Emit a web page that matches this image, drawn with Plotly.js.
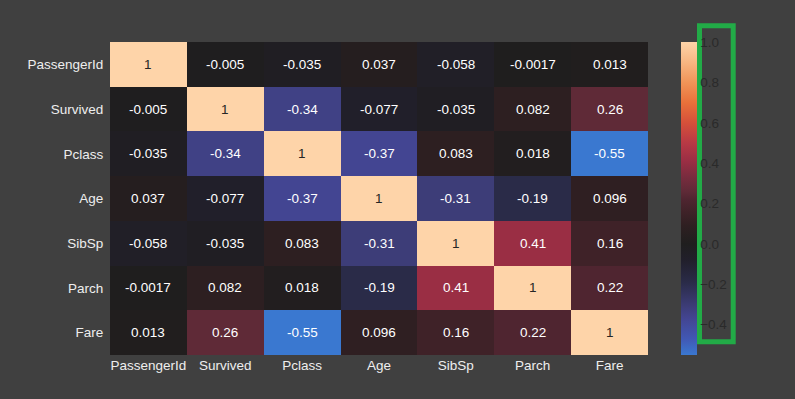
<!DOCTYPE html>
<html>
<head>
<meta charset="utf-8">
<script src="https://cdn.plot.ly/plotly-3.0.1.min.js"></script>
<style>
html,body{margin:0;padding:0;background:#404040;}
#chart{width:795px;height:399px;}
</style>
</head>
<body>
<div id="chart"></div>
<script>
// Variables (rows and columns share the same order)
const variables = ["PassengerId", "Survived", "Pclass", "Age", "SibSp", "Parch", "Fare"];

// Correlation values, one array per row
const rowPassengerId = [1, -0.005, -0.035, 0.037, -0.058, -0.0017, 0.013];
const rowSurvived    = [-0.005, 1, -0.34, -0.077, -0.035, 0.082, 0.26];
const rowPclass      = [-0.035, -0.34, 1, -0.37, 0.083, 0.018, -0.55];
const rowAge         = [0.037, -0.077, -0.37, 1, -0.31, -0.19, 0.096];
const rowSibSp       = [-0.058, -0.035, 0.083, -0.31, 1, 0.41, 0.16];
const rowParch       = [-0.0017, 0.082, 0.018, -0.19, 0.41, 1, 0.22];
const rowFare        = [0.013, 0.26, -0.55, 0.096, 0.16, 0.22, 1];

// Colorbar tick values and labels
const cbTickVals = [-0.4, -0.2, 0.0, 0.2, 0.4, 0.6, 0.8, 1.0];
const cbTickText = ["\u22120.4", "\u22120.2", "0.0", "0.2", "0.4", "0.6", "0.8", "1.0"];

const zRows = [rowPassengerId, rowSurvived, rowPclass, rowAge, rowSibSp, rowParch, rowFare];

const zMin = -0.55, zMax = 1;
// icefire-like stops (value, colour)
const stops = [
  [-0.55, "#3a78d0"],
  [-0.47, "#4158b4"],
  [-0.37, "#434592"],
  [-0.31, "#3d3d78"],
  [-0.19, "#2a2b48"],
  [-0.077, "#211f2a"],
  [0.0, "#1f1e1e"],
  [0.09, "#2e1f21"],
  [0.16, "#3f2228"],
  [0.22, "#4f2530"],
  [0.26, "#5f2a37"],
  [0.33, "#782c3e"],
  [0.41, "#9a2e44"],
  [0.5, "#b83945"],
  [0.6, "#d5503a"],
  [0.7, "#e9713a"],
  [0.8, "#f09458"],
  [0.9, "#f7b682"],
  [1.0, "#fed4a9"]
];
const colorscale = stops.map(s => [(s[0] - zMin) / (zMax - zMin), s[1]]);

function fmt(v) { return Number(v.toPrecision(2)).toString(); }

const annotations = [];
zRows.forEach((row, i) => {
  row.forEach((v, j) => {
    annotations.push({
      x: variables[j], y: variables[i], xref: "x", yref: "y",
      text: fmt(v), showarrow: false,
      font: {family: "Liberation Sans, Arial, sans-serif", size: 13.5, color: v > 0.7 ? "#262626" : "#ffffff"}
    });
  });
});

const trace = {
  type: "heatmap",
  x: variables, y: variables, z: zRows,
  zmin: zMin, zmax: zMax,
  colorscale: colorscale,
  hoverongaps: false,
  colorbar: {
    x: (681 - 110) / 538, xanchor: "left", xref: "paper",
    y: 0.5, yanchor: "middle", len: 1, lenmode: "fraction",
    thickness: 16, outlinewidth: 0, xpad: 0, ypad: 0,
    tickmode: "array", tickvals: cbTickVals, ticktext: cbTickText,
    ticks: "", ticklabelposition: "outside",
    tickfont: {family: "Liberation Sans, Arial, sans-serif", size: 13.5, color: "#2a2a2a"}
  }
};

const layout = {
  width: 795, height: 399,
  margin: {l: 110, r: 147, t: 42, b: 44},
  paper_bgcolor: "#404040", plot_bgcolor: "#404040",
  font: {family: "Liberation Sans, Arial, sans-serif", size: 13.5, color: "#eeeeee"},
  xaxis: {type: "category", showgrid: false, zeroline: false, showline: false,
          ticks: "", ticklabelstandoff: 0,
          tickfont: {size: 13.5, color: "#eeeeee"}},
  yaxis: {type: "category", autorange: "reversed", showgrid: false, zeroline: false, showline: false,
          ticks: "outside", ticklen: 3, tickcolor: "#404040",
          tickfont: {size: 13.5, color: "#eeeeee"}},
  annotations: annotations,
  shapes: [{
    type: "rect", xref: "paper", yref: "paper", layer: "above",
    x0: (699.5 - 110) / 538, x1: (733.2 - 110) / 538,
    y0: (355 - 341.8) / 313, y1: (355 - 25.8) / 313,
    line: {color: "#22ab47", width: 5}, fillcolor: "rgba(0,0,0,0)"
  }]
};

Plotly.newPlot("chart", [trace], layout, {displayModeBar: false, staticPlot: true});
</script>
</body>
</html>
